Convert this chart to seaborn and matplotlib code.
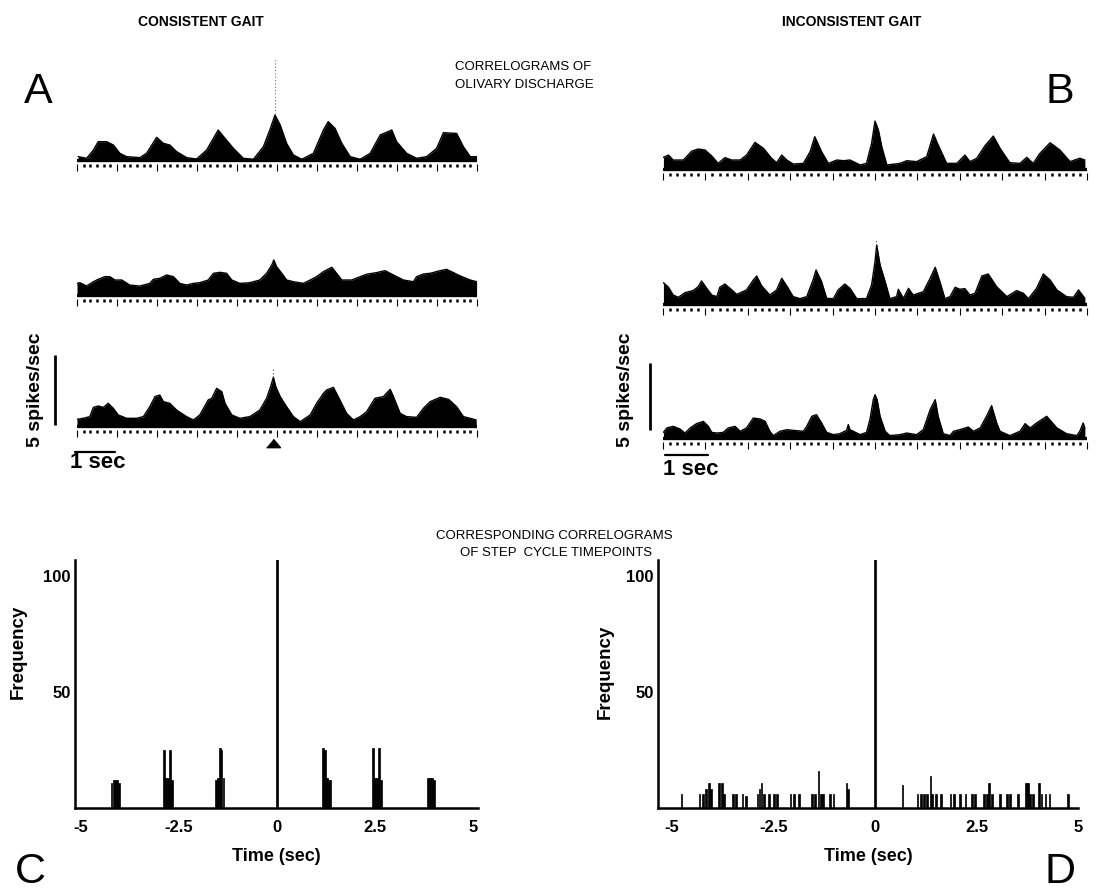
import matplotlib
matplotlib.use("Agg")
import matplotlib.pyplot as plt
from matplotlib.ticker import MultipleLocator
import seaborn as sns

# ---------------- data ----------------
# Olivary discharge correlograms: time lag (s) and rate above baseline (spikes/s)
A1_TIME = [-4.97,-4.76,-4.59,-4.47,-4.26,-4.09,-3.93,-3.76,-3.43,-3.26,-3.01,-2.84,-2.68,-2.51,-2.26,-2.01,-1.76,-1.47,-1.30,-1.09,-0.84,-0.59,-0.34,-0.18,-0.05,0.08,0.24,0.41,0.62,0.91,1.16,1.28,1.45,1.62,1.83,2.08,2.33,2.58,2.87,2.99,3.24,3.49,3.74,3.99,4.16,4.49,4.66,4.83,4.99]
A1_RATE = [0.24,0.12,0.71,1.31,1.31,1.07,0.48,0.24,0.17,0.48,1.62,1.19,1.07,0.60,0.17,0.07,0.71,2.14,1.55,0.83,0.12,0.05,0.95,2.14,3.21,2.50,1.19,0.36,0.05,0.48,2.14,2.74,2.26,1.19,0.24,0.05,0.48,1.79,2.14,1.31,0.48,0.12,0.24,0.83,1.95,1.90,0.95,0.24,0.24]

A2_TIME = [-5.0,-4.93,-4.76,-4.59,-4.47,-4.30,-4.18,-4.05,-3.88,-3.68,-3.43,-3.18,-3.09,-2.93,-2.76,-2.59,-2.43,-2.26,-2.09,-1.93,-1.72,-1.59,-1.43,-1.26,-1.13,-0.93,-0.68,-0.43,-0.26,-0.13,-0.08,-0.01,0.12,0.24,0.41,0.66,0.83,0.99,1.16,1.37,1.49,1.62,1.87,2.08,2.24,2.49,2.70,2.91,3.16,3.41,3.49,3.66,3.83,4.08,4.24,4.41,4.58,4.83,4.99]
A2_RATE = [0.83,0.88,0.64,0.95,1.12,1.31,1.31,1.07,1.07,0.71,0.64,0.83,1.12,1.19,1.43,1.31,0.83,0.71,0.83,0.88,1.07,1.55,1.62,1.55,1.07,0.83,0.88,1.07,1.55,2.14,2.50,2.02,1.55,1.07,0.95,0.83,1.07,1.31,1.67,1.98,1.55,1.07,1.07,1.31,1.48,1.60,1.74,1.43,1.07,0.95,1.31,1.50,1.55,1.74,1.83,1.60,1.36,1.07,0.95]

A3_TIME = [-5.0,-4.84,-4.68,-4.59,-4.47,-4.34,-4.22,-4.09,-3.97,-3.76,-3.51,-3.34,-3.18,-3.05,-2.93,-2.84,-2.68,-2.51,-2.26,-2.09,-1.93,-1.72,-1.63,-1.51,-1.38,-1.30,-1.13,-0.93,-0.68,-0.43,-0.26,-0.16,-0.09,-0.03,0.08,0.24,0.41,0.58,0.83,0.99,1.16,1.24,1.41,1.53,1.74,1.91,2.08,2.24,2.45,2.66,2.83,2.91,3.08,3.24,3.49,3.66,3.83,4.08,4.29,4.49,4.66,4.83,4.98]
A3_RATE = [0.48,0.55,0.67,1.33,1.43,1.33,1.62,1.26,0.79,0.55,0.55,0.67,1.38,2.10,2.21,1.74,1.62,1.14,0.67,0.43,0.79,1.86,1.98,2.69,2.45,1.62,0.79,0.55,0.67,1.14,1.98,2.81,3.48,2.81,2.10,1.38,0.67,0.31,0.79,1.62,2.33,2.57,2.76,2.10,0.90,0.43,0.67,1.02,1.98,2.10,2.62,2.10,0.90,0.67,0.62,1.26,1.74,2.05,1.90,1.38,0.67,0.55,0.43]

B1_TIME = [-4.99,-4.87,-4.76,-4.52,-4.32,-4.17,-4.01,-3.85,-3.70,-3.54,-3.38,-3.18,-3.03,-2.83,-2.63,-2.44,-2.32,-2.20,-2.08,-1.93,-1.69,-1.53,-1.42,-1.26,-1.10,-0.90,-0.75,-0.59,-0.35,-0.20,-0.08,0.0,0.08,0.16,0.28,0.59,0.75,0.98,1.22,1.38,1.49,1.69,1.93,2.12,2.24,2.40,2.59,2.79,2.95,3.18,3.42,3.58,3.73,3.89,4.13,4.36,4.60,4.83,4.95]
B1_RATE = [0.87,1.04,0.67,0.67,1.34,1.49,1.42,0.97,0.42,0.85,0.67,0.67,1.04,1.99,1.54,0.80,0.47,1.04,0.67,0.37,0.42,1.29,2.41,1.29,0.42,0.67,0.62,0.67,0.30,0.42,1.92,3.58,2.91,1.66,0.30,0.42,0.62,0.55,0.92,2.61,1.79,0.42,0.42,1.04,0.55,0.80,1.72,2.46,1.54,0.47,0.42,0.87,0.42,1.17,1.96,1.42,0.55,0.80,0.67]

B2_TIME = [-4.99,-4.87,-4.76,-4.64,-4.56,-4.48,-4.29,-4.17,-4.09,-3.97,-3.85,-3.73,-3.66,-3.54,-3.42,-3.26,-3.03,-2.87,-2.79,-2.67,-2.48,-2.32,-2.20,-2.08,-1.93,-1.77,-1.61,-1.46,-1.39,-1.26,-1.14,-0.98,-0.87,-0.71,-0.59,-0.43,-0.20,-0.08,0.0,0.04,0.12,0.24,0.35,0.51,0.55,0.67,0.79,0.90,1.14,1.30,1.42,1.53,1.65,1.77,1.89,2.00,2.12,2.24,2.36,2.52,2.67,2.87,3.11,3.34,3.50,3.62,3.81,3.97,4.13,4.29,4.52,4.68,4.80,4.95]
B2_RATE = [1.59,1.25,0.67,0.50,0.67,0.85,1.00,1.29,1.72,1.17,0.67,0.55,1.25,1.49,1.17,0.72,1.05,1.79,2.09,1.34,0.67,1.05,1.92,1.34,0.55,0.40,0.55,1.79,2.54,1.67,0.42,0.40,1.05,1.49,1.17,0.40,0.40,1.42,3.16,4.40,2.91,1.67,0.40,0.55,1.10,0.42,1.17,0.67,0.92,1.92,2.74,1.67,0.40,0.55,1.25,1.10,1.15,0.67,0.80,2.09,2.24,1.29,0.55,1.00,0.80,0.40,1.17,2.24,1.79,1.05,0.55,0.50,1.05,0.42]

B3_TIME = [-4.99,-4.91,-4.76,-4.60,-4.48,-4.36,-4.21,-4.05,-3.93,-3.85,-3.73,-3.58,-3.46,-3.30,-3.18,-3.03,-2.87,-2.71,-2.59,-2.48,-2.40,-2.24,-2.08,-1.93,-1.69,-1.61,-1.49,-1.38,-1.26,-1.14,-0.98,-0.83,-0.67,-0.63,-0.59,-0.35,-0.20,-0.12,-0.04,0.0,0.05,0.12,0.24,0.35,0.59,0.75,0.98,1.14,1.30,1.42,1.49,1.61,1.77,1.85,2.00,2.20,2.32,2.48,2.63,2.75,2.87,2.95,3.18,3.42,3.54,3.66,3.81,4.05,4.29,4.52,4.76,4.83,4.91,4.95]
B3_RATE = [0.42,0.75,0.87,0.67,0.37,0.75,1.07,1.24,0.87,0.42,0.37,0.42,0.75,0.87,0.50,0.75,1.49,1.42,1.24,0.50,0.18,0.50,0.62,0.57,0.50,0.87,1.62,1.74,1.12,0.42,0.25,0.32,0.57,1.00,0.62,0.25,0.42,1.37,2.86,3.23,2.86,1.62,0.50,0.18,0.25,0.37,0.25,0.62,2.11,2.86,1.62,0.32,0.18,0.50,0.62,0.82,0.50,0.75,1.62,2.41,1.12,0.50,0.18,0.50,1.07,0.75,1.12,1.62,0.75,0.32,0.18,0.50,1.12,0.75]

# Step-cycle timepoint correlograms: bin centre (s) and frequency
C_TIME = [-4.22,-4.17,-4.12,-4.07,-4.02,-2.88,-2.83,-2.78,-2.73,-2.68,-1.56,-1.51,-1.46,-1.41,-1.36,0.0,1.17,1.22,1.27,1.32,1.37,2.45,2.50,2.55,2.60,2.65,3.85,3.90,3.95,4.00]
C_FREQ = [11,12,12,12,11,25,13,13,25,12,12,13,26,25,13,110,26,25,13,12,12,26,13,13,26,12,13,13,13,12]

D_TIME = [-4.76,-4.32,-4.24,-4.15,-4.09,-4.03,-3.83,-3.76,-3.71,-3.50,-3.42,-3.26,-3.18,-2.89,-2.84,-2.79,-2.73,-2.61,-2.49,-2.41,-2.08,-2.00,-1.86,-1.54,-1.47,-1.39,-1.33,-1.27,-1.10,-1.02,-0.70,-0.66,0.0,0.68,1.05,1.13,1.21,1.29,1.37,1.41,1.50,1.62,1.86,1.94,2.10,2.23,2.39,2.47,2.68,2.76,2.81,2.88,3.08,3.26,3.32,3.53,3.71,3.77,3.81,3.90,4.04,4.10,4.20,4.30,4.75]
D_FREQ = [6,6,6,8,11,8,11,11,6,6,6,6,5,6,8,11,6,6,6,6,6,6,6,6,6,16,6,6,6,6,11,8,110,10,6,6,6,6,14,6,6,6,6,6,6,6,6,6,6,6,11,6,6,6,6,6,11,11,6,6,11,6,6,6,6]

TIME_TICKS = [-5, -2.5, 0, 2.5, 5]
TIME_TICK_LABELS = ["-5", "-2.5", "0", "2.5", "5"]
FREQ_TICKS = [50, 100]
FREQ_TICK_LABELS = ["50", "100"]

# ---------------- style ----------------
sns.set_style("white")
plt.rcParams['font.family'] = ['Liberation Sans', 'DejaVu Sans']
for k in ['text.color', 'axes.labelcolor', 'xtick.color', 'ytick.color']:
    plt.rcParams[k] = 'black'

W, H = 1097, 893
fig = plt.figure(figsize=(W / 100, H / 100), dpi=100)
fig.patch.set_facecolor('white')


def box(l, t, r, b):
    return [l / W, 1 - b / H, (r - l) / W, (b - t) / H]


def fx(x):
    return x / W


def fy(y):
    return 1 - y / H


def trace_axis(left, right, base, ppu, times, rates):
    ax = fig.add_axes(box(left, base - 78, right, base + 4))
    ax.set_xlim(-5, 5)
    ax.set_ylim(-4 / ppu, 78 / ppu)
    ax.fill_between(times, 0, rates, color='black', linewidth=0)
    sns.lineplot(x=times, y=rates, ax=ax, color='black', linewidth=1.0, estimator=None, sort=False)
    ax.axhline(0, color='black', linewidth=2.4)
    for s in ax.spines.values():
        s.set_visible(False)
    ax.set_facecolor('none')
    ax.set_yticks([])
    ax.xaxis.set_major_locator(MultipleLocator(1))
    ax.xaxis.set_minor_locator(MultipleLocator(1 / 6))
    ax.tick_params(axis='x', which='major', bottom=True, length=5, width=0.8,
                   direction='out', color='black', labelbottom=False)
    ax.tick_params(axis='x', which='minor', bottom=True, length=2.5, width=1.8,
                   direction='out', color='black')
    ax.set_xlabel('')
    ax.set_ylabel('')
    return ax


PPU_A = 14.0
PPU_B = 13.4
axA1 = trace_axis(77, 477, 160, PPU_A, A1_TIME, A1_RATE)
axA2 = trace_axis(77, 477, 295, PPU_A, A2_TIME, A2_RATE)
axA3 = trace_axis(77, 477, 426, PPU_A, A3_TIME, A3_RATE)
axB1 = trace_axis(663, 1087, 169, PPU_B, B1_TIME, B1_RATE)
axB2 = trace_axis(663, 1087, 304, PPU_B, B2_TIME, B2_RATE)
axB3 = trace_axis(663, 1087, 438, PPU_B, B3_TIME, B3_RATE)

# faint dotted marks above the zero-lag peaks
axA1.plot([-0.05, -0.05], [3.3, 7.3], color='0.45', ls=(0, (1, 2)), lw=0.8, clip_on=False)
axA3.plot([-0.09, -0.09], [3.5, 4.2], color='0.3', ls=(0, (1, 2)), lw=0.8, clip_on=False)
axB2.plot([0.03, 0.03], [4.4, 4.8], color='0.3', ls=(0, (1, 2)), lw=0.8, clip_on=False)

# zero-lag marker under A3
axA3.plot([-0.09], [-1.18], marker=[(-1, -0.6), (1, -0.6), (0, 0.6)], ms=10,
          color='black', clip_on=False, linestyle='none')

# scale bars
axA3.plot([-5.55, -5.55], [0.07, 5.07], color='black', lw=2, clip_on=False, solid_capstyle='butt')
axA3.plot([-5.05, -4.05], [-1.86, -1.86], color='black', lw=1.6, clip_on=False)
axB3.plot([-5.31, -5.31], [0.6, 5.6], color='black', lw=2, clip_on=False, solid_capstyle='butt')
axB3.plot([-4.95, -3.95], [-1.3, -1.3], color='black', lw=1.6, clip_on=False)

fig.text(fx(35), fy(390), "5 spikes/sec", rotation=90, ha='center', va='center',
         fontsize=14, fontweight='bold')
fig.text(fx(625), fy(390), "5 spikes/sec", rotation=90, ha='center', va='center',
         fontsize=14, fontweight='bold')
fig.text(fx(70), fy(468), "1 sec", ha='left', va='baseline', fontsize=16, fontweight='bold')
fig.text(fx(663), fy(475), "1 sec", ha='left', va='baseline', fontsize=16, fontweight='bold')


# ---------------- step cycle correlograms ----------------
def hist_axis(rect, xlim, times, freqs, ylab_xy):
    ax = fig.add_axes(rect)
    ax.bar(times, freqs, width=0.045, color='black', edgecolor='black', linewidth=0.5)
    ax.set_xlim(*xlim)
    ax.set_ylim(0, 107)
    for side in ['top', 'right']:
        ax.spines[side].set_visible(False)
    for side in ['left', 'bottom']:
        ax.spines[side].set_visible(True)
        ax.spines[side].set_color('black')
        ax.spines[side].set_linewidth(1.8)
    ax.set_facecolor('none')
    ax.set_xticks(TIME_TICKS)
    ax.set_xticklabels(TIME_TICK_LABELS, fontsize=12, fontweight='bold')
    ax.set_yticks(FREQ_TICKS)
    ax.set_yticklabels(FREQ_TICK_LABELS, fontsize=12, fontweight='bold')
    ax.tick_params(axis='x', length=0, pad=9)
    ax.tick_params(axis='y', length=0, pad=3)
    ax.set_xlabel("Time (sec)", fontsize=13, fontweight='bold', labelpad=9)
    ax.set_ylabel("Frequency", fontsize=13.5, fontweight='bold')
    ax.yaxis.set_label_coords(*ylab_xy)
    return ax


axC = hist_axis(box(75, 560, 478, 808), (-5.15, 5.13), C_TIME, C_FREQ, (-0.12, 0.63))
axD = hist_axis(box(658, 560, 1078, 808), (-5.34, 4.9), D_TIME, D_FREQ, (-0.105, 0.55))

# ---------------- titles and panel letters ----------------
fig.text(fx(201), fy(22), "CONSISTENT GAIT", ha='center', va='center', fontsize=10, fontweight='bold')
fig.text(fx(852), fy(22), "INCONSISTENT GAIT", ha='center', va='center', fontsize=10, fontweight='bold')
fig.text(fx(455), fy(67), "CORRELOGRAMS OF", ha='left', va='center', fontsize=9.5)
fig.text(fx(455), fy(85), "OLIVARY DISCHARGE", ha='left', va='center', fontsize=9.5)
fig.text(fx(554), fy(536), "CORRESPONDING CORRELOGRAMS", ha='center', va='center', fontsize=9.5)
fig.text(fx(556), fy(553), "OF STEP  CYCLE TIMEPOINTS", ha='center', va='center', fontsize=9.5)

for letter, x, y in [("A", 38, 92), ("B", 1060, 92), ("C", 30, 872), ("D", 1060, 872)]:
    fig.text(fx(x), fy(y), letter, ha='center', va='center', fontsize=31, fontweight='normal')

fig.savefig("out.png", dpi=100, facecolor='white')
